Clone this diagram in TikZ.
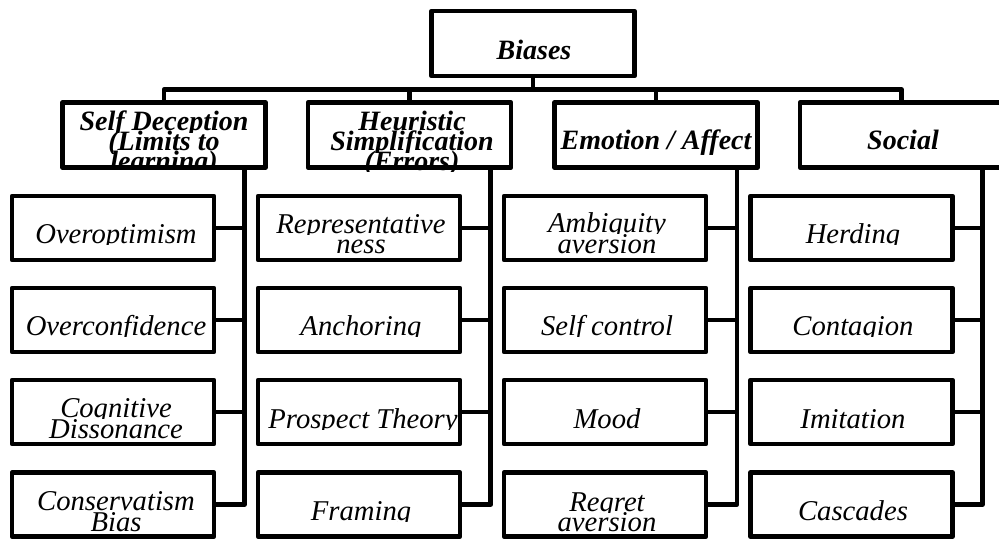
\documentclass[tikz,border=0pt]{standalone}
\usepackage{fontspec}
\setmainfont{Liberation Serif}
% #1 name, #2 style, #3 x, #4 baseline, #5 clip left, #6 clip right, #7 clip bottom, #8 text
\newcommand\ctext[8]{\begin{scope}\clip (#5,#4-34) rectangle (#6,#7);\node[#2] (#1) at (#3,#4) {#8};\end{scope}}
\begin{document}
\begin{tikzpicture}[x=0.75pt,y=-0.75pt,
  conn/.style={draw=black,line width=3.5pt,line join=round},
  bx/.style={draw=black,line width=3.5pt,line join=round,inner sep=0pt,minimum width=151.5pt,minimum height=48pt},
  cbx/.style={bx,minimum width=152.25pt,minimum height=48.75pt},
  lf/.style={font=\itshape\fontsize{21.5}{21.5}\selectfont,anchor=base,inner sep=0pt},
  cf/.style={font=\bfseries\itshape\fontsize{21}{21}\selectfont,anchor=base,inner sep=0pt}]
\useasboundingbox (0,0) rectangle (999,541);
% root and categories
\node[cbx] (root) at (533,43.5) {};
\node[cbx] (c1) at (164,135) {};
\node[cbx] (c2) at (409.5,135) {};
\node[cbx] (c3) at (656,135) {};
\node[cbx] (c4) at (901.5,135) {};
% leaves
\node[bx] (l11) at (113,228) {};
\node[bx] (l12) at (113,320) {};
\node[bx] (l13) at (113,412) {};
\node[bx] (l14) at (113,504.5) {};
\node[bx] (l21) at (359,228) {};
\node[bx] (l22) at (359,320) {};
\node[bx] (l23) at (359,412) {};
\node[bx] (l24) at (359,504.5) {};
\node[bx] (l31) at (605,228) {};
\node[bx] (l32) at (605,320) {};
\node[bx] (l33) at (605,412) {};
\node[bx] (l34) at (605,504.5) {};
\node[bx] (l41) at (851.5,228) {};
\node[bx] (l42) at (851.5,320) {};
\node[bx] (l43) at (851.5,412) {};
\node[bx] (l44) at (851.5,504.5) {};
% tree connectors
\coordinate (bar) at (0,89.5);
\draw[conn] (root.south) -- (root.south |- bar);
\draw[conn] (c1.north) -- (c1.north |- bar) -| (c4.north);
\draw[conn] (c2.north) -- (c2.north |- bar);
\draw[conn] (c3.north) -- (c3.north |- bar);
\coordinate (s1) at (244.5,0);
\coordinate (s2) at (490.8,0);
\coordinate (s3) at (737,0);
\coordinate (s4) at (982.5,0);
\foreach \c/\s in {1/s1,2/s2,3/s3,4/s4}{
  \draw[conn] (c\c.south -| \s) -- (l\c4.east -| \s) -- (l\c4.east);
  \draw[conn] (l\c1.east) -- (l\c1.east -| \s);
  \draw[conn] (l\c2.east) -- (l\c2.east -| \s);
  \draw[conn] (l\c3.east) -- (l\c3.east -| \s);
}
% texts
\ctext{troot}{cf}{534}{60}{434}{632}{72}{Biases}
\ctext{tc1a}{cf}{164}{131}{65}{263}{132.5}{Self Deception}
\ctext{tc1b}{cf}{164}{151}{65}{263}{153.5}{(Limits to}
\ctext{tc1c}{cf}{164}{171}{65}{263}{166}{learning)}
\ctext{tc2a}{cf}{412}{131}{311}{508}{133}{Heuristic}
\ctext{tc2b}{cf}{412}{151}{311}{508}{152.5}{Simplification}
\ctext{tc2c}{cf}{412}{171}{311}{508}{172}{(Errors)}
\ctext{tc3}{cf}{656}{150}{557}{755}{160}{Emotion / Affect}
\ctext{tc4}{cf}{903}{150}{803}{999}{160}{Social}
%
\ctext{t11}{lf}{116}{244}{14}{212}{244.5}{Overoptimism}
\ctext{t12}{lf}{116}{336}{14}{212}{337}{Overconfidence}
\ctext{t13a}{lf}{116}{417.5}{14}{212}{418.5}{Cognitive}
\ctext{t13b}{lf}{116}{438}{14}{212}{440}{Dissonance}
\ctext{t14a}{lf}{116}{510}{14}{212}{511}{Conservatism}
\ctext{t14b}{lf}{116}{531}{14}{212}{533}{Bias}
\ctext{t21a}{lf}{361}{233.5}{260}{458.5}{234.5}{Representative}
\ctext{t21b}{lf}{361}{254}{260}{458.5}{256}{ness}
\ctext{t22}{lf}{361}{336}{260}{458.5}{337}{Anchoring}
\ctext{t23}{lf}{363}{428}{260}{458.5}{429}{Prospect Theory}
\ctext{t24}{lf}{361}{520}{260}{458.5}{521}{Framing}
\ctext{t31a}{lf}{607}{233}{506}{704}{234}{Ambiguity}
\ctext{t31b}{lf}{607}{254}{506}{704}{255.5}{aversion}
\ctext{t32}{lf}{607}{336}{506}{704}{337}{Self control}
\ctext{t33}{lf}{607}{428}{506}{704}{429.5}{Mood}
\ctext{t34a}{lf}{607}{511.5}{506}{704}{512.5}{Regret}
\ctext{t34b}{lf}{607}{531}{506}{704}{533}{aversion}
\ctext{t41}{lf}{853}{244}{752}{951}{245}{Herding}
\ctext{t42}{lf}{853}{336}{752}{951}{337}{Contagion}
\ctext{t43}{lf}{853}{428}{752}{951}{430}{Imitation}
\ctext{t44}{lf}{853}{520.5}{752}{951}{521.5}{Cascades}
\end{tikzpicture}
\end{document}
